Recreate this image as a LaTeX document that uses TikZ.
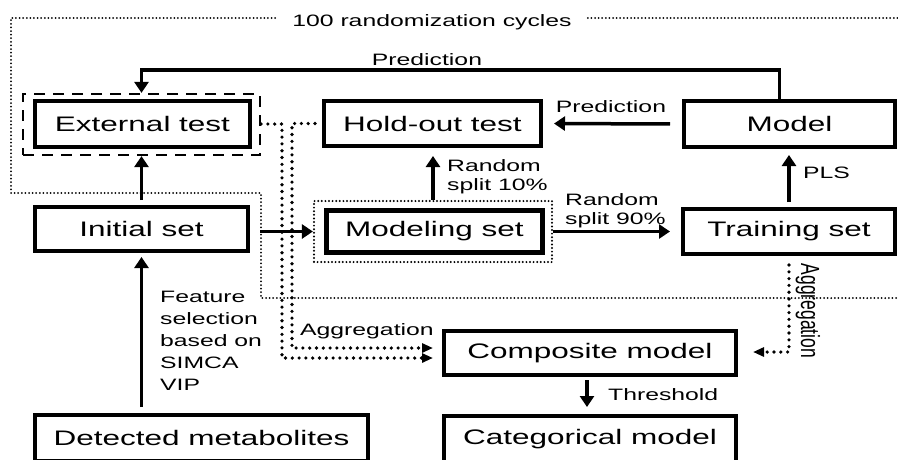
\documentclass[tikz,border=0pt]{standalone}
\usepackage{fontspec}
\usetikzlibrary{arrows.meta}
\newfontfamily\sfwide{Liberation Sans}[FakeStretch=1.5]
\newfontfamily\sfnorm{Liberation Sans}
\newcommand\boxfont{\sfwide\fontsize{21}{25}\selectfont}
\newcommand\lblfont{\sfwide\fontsize{16.5}{22}\selectfont}
\newcommand\lblfontB{\sfwide\fontsize{16.5}{19.5}\selectfont}
\begin{document}
\begin{tikzpicture}[x=1pt,y=-1pt,
  box/.style={draw, line width=4pt, inner sep=0pt, font=\boxfont},
  lbl/.style={inner sep=0pt, font=\lblfont},
  lblB/.style={inner sep=0pt, font=\lblfontB, align=left, anchor=north west},
  conn/.style={line width=3.5pt, -{Triangle[length=11pt,width=14pt]}},
  thindot/.style={line width=2pt, dash pattern=on 0pt off 3.6pt, line cap=round},
  dotarrow/.style={line width=3.6pt, dash pattern=on 0pt off 6.8pt, line cap=round, -{Triangle[length=11pt,width=9pt]}}
]
\useasboundingbox[fill=white] (0,0) rectangle (898,459);

% boxes
\node[box, minimum width=215pt, minimum height=46pt] (ext) at (142.5,124) {External test};
\node[draw, line width=2.2pt, dash pattern=on 11pt off 8pt, minimum width=237pt, minimum height=61pt, inner sep=0pt] (extdash) at (141.5,124.5) {};
\node[box, minimum width=217pt, minimum height=45pt] (hold) at (432.5,123.5) {Hold-out test};
\node[box, minimum width=211pt, minimum height=46pt] (model) at (789.5,124) {Model};
\node[box, minimum width=213pt, minimum height=44pt] (init) at (141.5,229) {Initial set};
\node[box, line width=5pt, minimum width=216pt, minimum height=42pt] (mod) at (434.5,231.5) {Modeling set};
\node[draw, line width=2.2pt, dash pattern=on 0pt off 3.6pt, line cap=round, minimum width=238pt, minimum height=61pt, inner sep=0pt] (moddot) at (433,231.5) {};
\node[box, minimum width=212pt, minimum height=45pt] (train) at (789,231.5) {Training set};
\node[box, minimum width=292pt, minimum height=44pt] (comp) at (590,353) {Composite model};
\node[box, minimum width=292pt, minimum height=46pt] (cat) at (590,439) {Categorical model};
\node[box, minimum width=333pt, minimum height=46pt] (det) at (201.5,438) {Detected metabolites};

% labels
\node[lbl, anchor=base] (rnd) at (432,26) {100 randomization cycles};
\node[lbl, anchor=base] (p1) at (427,65) {Prediction};
\node[lbl, anchor=base] (p2) at (611,112) {Prediction};
\node[lblB] (r10) at (447,159) {Random\\split 10\%};
\node[lblB] (r90) at (565,193) {Random\\split 90\%};
\node[lbl, anchor=base west] (pls) at (803,178) {PLS};
\node[lbl, anchor=north west, align=left] (fs) at (160,291) {Feature\\selection\\based on\\SIMCA\\VIP};
\node[lbl, anchor=base west] (agg1) at (300,335) {Aggregation};
\node[lbl, anchor=base west] (thr) at (608,400) {Threshold};
\node[inner sep=0pt, rotate=-90, font=\sfnorm\fontsize{17.5}{20}\selectfont] (agg2) at (808,311) {\scalebox{1}[1.5]{Aggregation}};

% randomization loop
\draw[thindot] ([xshift=-17pt]rnd.west |- 0,18) -- (11,18) -- (11,193) -- (261,193) -- (261,298) -- (898,298);
\draw[thindot] ([xshift=16pt]rnd.east |- 0,18) -- (898,18);

% solid connectors
\draw[conn] ([xshift=-10pt]model.north) |- ([yshift=23pt]extdash.north) -- (extdash.north);
\draw[conn, shorten <=12pt, shorten >=11pt] (model.west) -- (hold.east);
\draw[conn, shorten >=8pt] (moddot.north) -- (moddot.north |- hold.south);
\draw[conn, shorten >=11pt] (moddot.east) -- (moddot.east -| train.west);
\draw[conn, shorten <=5pt, shorten >=6pt] (train.north) -- (train.north |- model.south);
\draw[conn, shorten <=5pt] (init.north) -- (init.north |- extdash.south);
\draw[conn, shorten <=10pt] (init.east |- moddot.west) -- (moddot.west);
\draw[conn, shorten <=6pt, shorten >=4pt] (det.north -| init.south) -- (init.south);
\draw[conn, shorten <=3pt, shorten >=7pt] ([xshift=-3pt]comp.south) -- ([xshift=-3pt]comp.south |- cat.north);

% aggregation dotted connectors
\draw[dotarrow] (extdash.east |- 0,124) -- (282,124) -- (282,358) -- ([xshift=-9pt]comp.west |- 0,358);
\draw[dotarrow, shorten <=7pt] (hold.west) -- (292,123.5) -- (292,348) -- ([xshift=-9pt]comp.west |- 0,348);
\draw[dotarrow, shorten <=9pt] (train.south) -- (train.south |- 0,352) -- ([xshift=15pt]comp.east |- 0,352);
\end{tikzpicture}
\end{document}
